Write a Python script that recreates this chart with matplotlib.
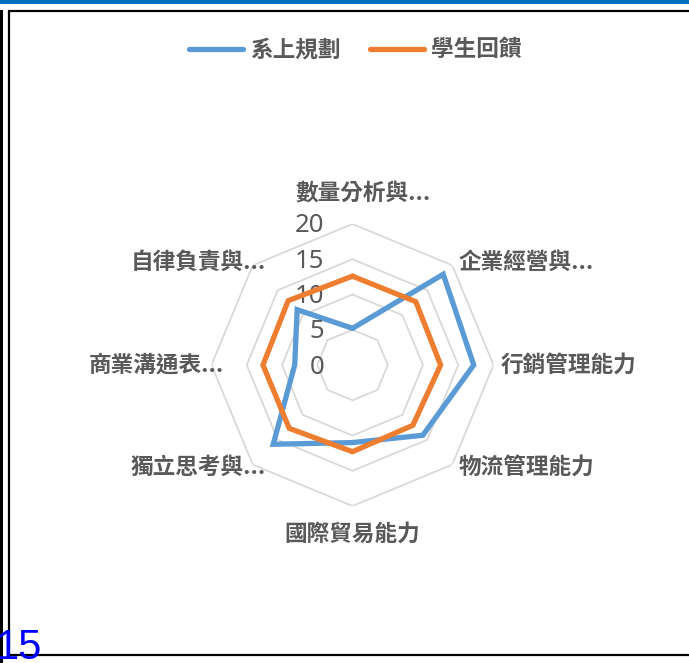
import numpy as np
import matplotlib
matplotlib.use("Agg")
import matplotlib.pyplot as plt
from matplotlib.patches import Rectangle

plt.rcParams['font.family'] = ['Noto Sans CJK TC', 'DejaVu Sans']

# donnees
categories = ["數量分析與...", "企業經營與...", "行銷管理能力", "物流管理能力",
              "國際貿易能力", "獨立思考與...", "商業溝通表...", "自律負責與..."]
plan = [5.2, 18.2, 17.2, 14.1, 11.0, 15.9, 8.2, 11.1]
feedback = [12.6, 12.7, 12.5, 12.1, 12.3, 12.7, 12.7, 12.9]
series_names = ["系上規劃", "學生回饋"]
ring_values = [5, 10, 15, 20]
tick_values = [0, 5, 10, 15, 20]

BLUE = "#5B9BD5"
ORANGE = "#ED7D31"
TXT = "#595959"
GRID = "#D9D9D9"

W, H = 689, 663
fig = plt.figure(figsize=(W / 100, H / 100), dpi=100)

def px(x, y):
    # pixel -> fraction de figure
    return x / W, 1 - y / H

# centre et rayon du radar en pixels
cx, cy, R = 352.5, 365, 141
ax = fig.add_axes([(cx - R) / W, (H - cy - R) / H, 2 * R / W, 2 * R / H],
                  projection='polar')
ax.set_theta_offset(np.pi / 2)
ax.set_theta_direction(-1)
ax.set_ylim(0, 20)
ax.set_xticks([])
ax.set_yticks([])
ax.grid(False)
ax.spines['polar'].set_visible(False)
ax.patch.set_alpha(0)

n = len(categories)
angles = np.linspace(0, 2 * np.pi, n, endpoint=False)
closed = np.append(angles, angles[0])

# grille octogonale
for v in ring_values:
    ax.plot(closed, [v] * (n + 1), color=GRID, lw=1.3, zorder=1)

# series
l1, = ax.plot(closed, plan + plan[:1], color=BLUE, lw=3.8,
              solid_joinstyle='miter', solid_capstyle='round', zorder=3,
              label=series_names[0])
l2, = ax.plot(closed, feedback + feedback[:1], color=ORANGE, lw=3.8,
              solid_joinstyle='miter', solid_capstyle='round', zorder=4,
              label=series_names[1])

# graduations
for v in tick_values:
    ax.annotate(str(v), xy=(0, v), xytext=(-28, -2), textcoords='offset pixels',
                ha='right', va='center', fontsize=18.5, color=TXT,
                family=['Noto Sans', 'DejaVu Sans'])

# etiquettes des categories (decalage en pixels depuis le sommet exterieur)
offsets = [(11, 30, 'center'), (6, 3, 'left'), (7, 0, 'left'), (6, -2, 'left'),
           (0, -28, 'center'), (13, -3, 'right'), (12, 0, 'right'), (13, 3, 'right')]
for a, lab, (dx, dy, ha) in zip(angles, categories, offsets):
    ax.annotate(lab, xy=(a, 20), xytext=(dx, dy), textcoords='offset pixels',
                ha=ha, va='center', fontsize=16.3, fontweight='bold', color=TXT,
                annotation_clip=False)

# legende
fig.legend(handles=[l1, l2], loc='center', bbox_to_anchor=px(355, 50), ncol=2,
           frameon=False, prop={'size': 16.3, 'weight': 'bold'}, labelcolor=TXT,
           handlelength=2.4, handletextpad=0.3, columnspacing=1.3)

# cadre autour du graphique
fig.add_artist(Rectangle(px(0, 4), 1, 4 / H, transform=fig.transFigure,
                         color="#0070C0", lw=0))
fig.add_artist(Rectangle(px(0, H), 3 / W, (H - 10) / H, transform=fig.transFigure,
                         color="black", lw=0))
fig.add_artist(Rectangle(px(8.5, 655), 1, 644 / H, transform=fig.transFigure,
                         fill=False, edgecolor="black", lw=1.6))

fig.text(*px(-4, 659), "15", color="#0000FF", fontsize=30, va='baseline',
         ha='left', family=['Liberation Sans', 'DejaVu Sans'])

fig.savefig("out.png", dpi=100)
